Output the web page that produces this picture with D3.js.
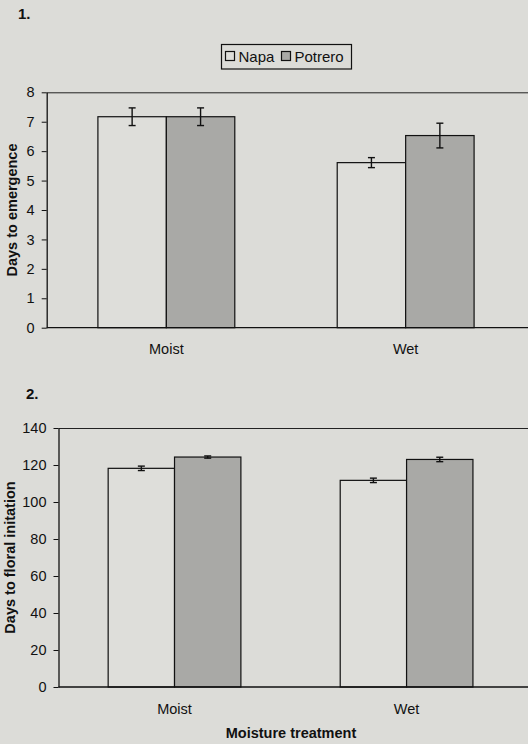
<!DOCTYPE html>
<html>
<head>
<meta charset="utf-8">
<script src="https://cdn.jsdelivr.net/npm/d3@7"></script>
<style>
  html, body { margin: 0; padding: 0; background: #dcdcd8; }
  svg { display: block; }
  text { font-family: "Liberation Sans", Arial, sans-serif; fill: #111; }
</style>
</head>
<body>
<div id="chart"></div>
<script>
// ---- data ----
const categories = ["Moist", "Wet"];
const seriesNames = ["Napa", "Potrero"];

const emergenceNapa = [7.17, 5.61];
const emergenceNapaErr = [0.30, 0.17];
const emergencePotrero = [7.17, 6.53];
const emergencePotreroErr = [0.30, 0.42];
const emergenceTicks = [0, 1, 2, 3, 4, 5, 6, 7, 8];

const floralNapa = [118.2, 111.7];
const floralNapaErr = [1.2, 1.2];
const floralPotrero = [124.3, 123.0];
const floralPotreroErr = [0.6, 1.2];
const floralTicks = [0, 20, 40, 60, 80, 100, 120, 140];

const seriesFill = { Napa: "#dedeDA", Potrero: "#a9a9a6" };

const W = 528, H = 744;
const svg = d3.select("#chart").append("svg").attr("width", W).attr("height", H);
svg.append("rect").attr("width", W).attr("height", H).attr("fill", "#dcdcd8");

function panel(opts) {
  const { left, right, top, bottom, domainMax, ticks, napa, napaErr, pot, potErr, yTitle, yTitleX, label, labelX, labelY, catLabelY } = opts;
  const g = svg.append("g");
  const x0 = d3.scaleBand().domain(categories).range([left, right]).paddingInner(0.428).paddingOuter(0.214);
  const x1 = d3.scaleBand().domain(seriesNames).range([0, x0.bandwidth()]).padding(0);
  const y = d3.scaleLinear().domain([0, domainMax]).range([bottom, top]);

  const rows = [];
  categories.forEach((c, i) => {
    rows.push({ cat: c, s: "Napa", v: napa[i], e: napaErr[i] });
    rows.push({ cat: c, s: "Potrero", v: pot[i], e: potErr[i] });
  });

  // frame lines (top & bottom extend to page edge)
  g.append("line").attr("x1", left).attr("x2", W).attr("y1", top + 0.5).attr("y2", top + 0.5)
    .attr("stroke", "#222").attr("stroke-width", 1);

  // bars
  g.selectAll("rect.bar").data(rows).enter().append("rect")
    .attr("class", "bar")
    .attr("x", d => x0(d.cat) + x1(d.s))
    .attr("y", d => y(d.v))
    .attr("width", x1.bandwidth())
    .attr("height", d => y(0) - y(d.v))
    .attr("fill", d => seriesFill[d.s])
    .attr("stroke", "#111").attr("stroke-width", 1.2);

  // error bars
  const cap = 3.5;
  const eb = g.selectAll("g.err").data(rows).enter().append("g").attr("class", "err")
    .attr("stroke", "#111").attr("stroke-width", 1.4);
  eb.append("line")
    .attr("x1", d => x0(d.cat) + x1(d.s) + x1.bandwidth() / 2)
    .attr("x2", d => x0(d.cat) + x1(d.s) + x1.bandwidth() / 2)
    .attr("y1", d => y(d.v + d.e)).attr("y2", d => y(d.v - d.e));
  eb.append("line")
    .attr("x1", d => x0(d.cat) + x1(d.s) + x1.bandwidth() / 2 - cap)
    .attr("x2", d => x0(d.cat) + x1(d.s) + x1.bandwidth() / 2 + cap)
    .attr("y1", d => y(d.v + d.e)).attr("y2", d => y(d.v + d.e));
  eb.append("line")
    .attr("x1", d => x0(d.cat) + x1(d.s) + x1.bandwidth() / 2 - cap)
    .attr("x2", d => x0(d.cat) + x1(d.s) + x1.bandwidth() / 2 + cap)
    .attr("y1", d => y(d.v - d.e)).attr("y2", d => y(d.v - d.e));

  // y axis
  const ya = g.append("g").attr("transform", `translate(${left},0)`)
    .call(d3.axisLeft(y).tickValues(ticks).tickSize(5).tickPadding(7).tickSizeOuter(0));
  ya.select(".domain").attr("stroke", "#111").attr("stroke-width", 1.3);
  ya.selectAll(".tick line").attr("stroke", "#111");
  ya.selectAll(".tick text").attr("font-size", "14.5px").attr("fill", "#111")
    .style("font-family", '"Liberation Sans", Arial, sans-serif');

  // x axis (baseline to edge)
  g.append("line").attr("x1", left).attr("x2", W).attr("y1", bottom).attr("y2", bottom)
    .attr("stroke", "#111").attr("stroke-width", 1.3);
  const xa = g.append("g").attr("transform", `translate(0,${bottom})`)
    .call(d3.axisBottom(x0).tickSize(0).tickPadding(0));
  xa.select(".domain").remove();
  xa.selectAll(".tick text").attr("y", catLabelY - bottom).attr("dy", 0)
    .attr("font-size", "14.5px").attr("fill", "#111")
    .style("font-family", '"Liberation Sans", Arial, sans-serif');

  // y title
  g.append("text")
    .attr("transform", `translate(${yTitleX},${(top + bottom) / 2}) rotate(-90)`)
    .attr("text-anchor", "middle").attr("dominant-baseline", "central")
    .attr("font-size", "14.5px").attr("font-weight", "bold").text(yTitle);

  // panel label
  svg.append("text").attr("x", labelX).attr("y", labelY)
    .attr("font-size", "15px").attr("font-weight", "bold").text(label);
}

panel({
  left: 46.7, right: 525.3, top: 92.3, bottom: 327.7,
  domainMax: 8, ticks: emergenceTicks,
  napa: emergenceNapa, napaErr: emergenceNapaErr, pot: emergencePotrero, potErr: emergencePotreroErr,
  yTitle: "Days to emergence", yTitleX: 12, label: "1.", labelX: 18, labelY: 19, catLabelY: 354.5
});

panel({
  left: 58.5, right: 522.6, top: 428, bottom: 687,
  domainMax: 140, ticks: floralTicks,
  napa: floralNapa, napaErr: floralNapaErr, pot: floralPotrero, potErr: floralPotreroErr,
  yTitle: "Days to floral initation", yTitleX: 9.5, label: "2.", labelX: 26, labelY: 398.5, catLabelY: 713.5
});

// x-axis title (bottom)
svg.append("text").attr("x", 291).attr("y", 738).attr("text-anchor", "middle")
  .attr("font-size", "14.5px").attr("font-weight", "bold").text("Moisture treatment");

// legend
const lg = svg.append("g");
lg.append("rect").attr("x", 221.5).attr("y", 44.5).attr("width", 130).attr("height", 24.5)
  .attr("fill", "#dcdcd8").attr("stroke", "#111").attr("stroke-width", 1.2);
const legendX = d3.scaleOrdinal().domain(seriesNames).range([225.5, 281.5]);
seriesNames.forEach(s => {
  lg.append("rect").attr("x", legendX(s)).attr("y", 51.5).attr("width", 9).attr("height", 9)
    .attr("fill", seriesFill[s]).attr("stroke", "#111").attr("stroke-width", 1.2);
  lg.append("text").attr("x", legendX(s) + 13).attr("y", 62)
    .attr("font-size", "15px").text(s);
});
</script>
</body>
</html>
